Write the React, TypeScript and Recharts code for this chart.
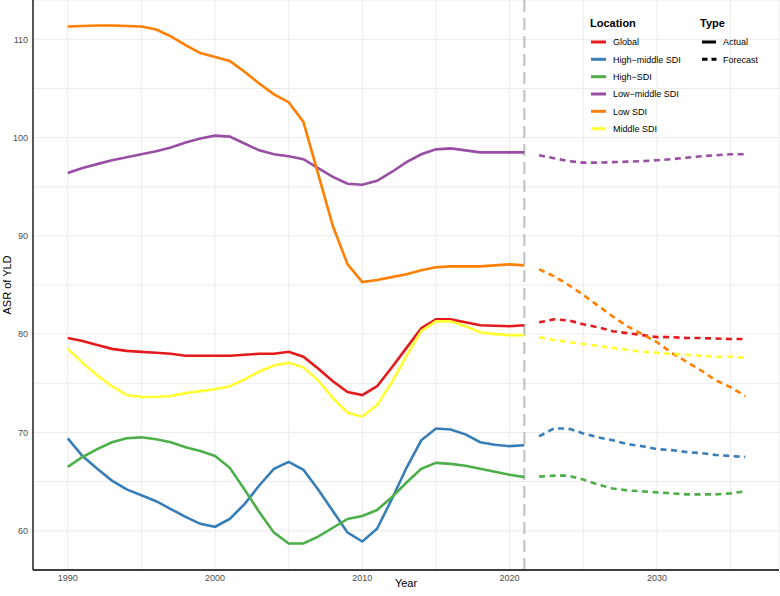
import React from 'react';
import { LineChart, Line, XAxis, YAxis, CartesianGrid, ReferenceLine } from 'recharts';

const actualYears = [1990, 1991, 1992, 1993, 1994, 1995, 1996, 1997, 1998, 1999, 2000, 2001, 2002, 2003, 2004, 2005, 2006, 2007, 2008, 2009, 2010, 2011, 2012, 2013, 2014, 2015, 2016, 2017, 2018, 2019, 2020, 2021];
const forecastYears = [2022, 2023, 2024, 2025, 2026, 2027, 2028, 2029, 2030, 2031, 2032, 2033, 2034, 2035, 2036];

const globalActual = [79.6, 79.3, 78.9, 78.5, 78.3, 78.2, 78.1, 78.0, 77.8, 77.8, 77.8, 77.8, 77.9, 78.0, 78.0, 78.2, 77.7, 76.5, 75.2, 74.1, 73.8, 74.7, 76.6, 78.6, 80.6, 81.5, 81.5, 81.2, 80.9, 80.85, 80.8, 80.9];
const highMiddleActual = [69.4, 67.6, 66.3, 65.1, 64.2, 63.6, 63.0, 62.2, 61.4, 60.7, 60.4, 61.2, 62.7, 64.6, 66.3, 67.0, 66.2, 64.2, 62.0, 59.8, 58.9, 60.2, 63.2, 66.4, 69.2, 70.4, 70.3, 69.8, 69.0, 68.75, 68.6, 68.7];
const highActual = [66.5, 67.5, 68.3, 69.0, 69.4, 69.5, 69.3, 69.0, 68.5, 68.1, 67.6, 66.4, 64.2, 61.9, 59.8, 58.7, 58.7, 59.4, 60.3, 61.2, 61.5, 62.1, 63.4, 64.9, 66.3, 66.9, 66.8, 66.6, 66.3, 66.0, 65.7, 65.45];
const lowMiddleActual = [96.4, 96.9, 97.3, 97.7, 98.0, 98.3, 98.6, 99.0, 99.5, 99.9, 100.2, 100.1, 99.4, 98.7, 98.3, 98.1, 97.8, 96.9, 96.0, 95.3, 95.2, 95.6, 96.5, 97.5, 98.3, 98.8, 98.9, 98.7, 98.5, 98.5, 98.5, 98.5];
const lowActual = [111.3, 111.35, 111.4, 111.4, 111.35, 111.3, 111.0, 110.3, 109.4, 108.6, 108.2, 107.8, 106.7, 105.5, 104.4, 103.6, 101.6, 96.3, 91.0, 87.1, 85.3, 85.5, 85.8, 86.1, 86.5, 86.8, 86.9, 86.9, 86.9, 87.0, 87.1, 87.0];
const middleActual = [78.5, 77.1, 75.8, 74.7, 73.8, 73.6, 73.6, 73.7, 74.0, 74.2, 74.4, 74.7, 75.4, 76.2, 76.8, 77.1, 76.6, 75.3, 73.5, 72.0, 71.6, 72.8, 75.1, 77.8, 80.3, 81.3, 81.3, 80.8, 80.2, 80.0, 79.9, 79.9];

const globalForecast = [81.2, 81.5, 81.4, 81.0, 80.7, 80.3, 80.1, 79.9, 79.7, 79.7, 79.6, 79.6, 79.55, 79.5, 79.5];
const highMiddleForecast = [69.6, 70.4, 70.4, 69.9, 69.5, 69.2, 68.8, 68.6, 68.3, 68.2, 68.0, 67.9, 67.7, 67.6, 67.5];
const highForecast = [65.5, 65.6, 65.6, 65.2, 64.7, 64.3, 64.1, 64.0, 63.9, 63.8, 63.7, 63.7, 63.7, 63.8, 64.0];
const lowMiddleForecast = [98.2, 97.9, 97.6, 97.45, 97.45, 97.5, 97.55, 97.6, 97.7, 97.8, 97.95, 98.1, 98.2, 98.3, 98.3];
const lowForecast = [86.6, 85.9, 85.0, 84.0, 82.9, 81.8, 80.8, 80.0, 79.2, 78.1, 77.2, 76.3, 75.3, 74.6, 73.7];
const middleForecast = [79.7, 79.4, 79.2, 79.0, 78.8, 78.6, 78.4, 78.2, 78.1, 78.0, 77.9, 77.8, 77.7, 77.7, 77.6];

const locations = ['Global', 'High-middle SDI', 'High-SDI', 'Low-middle SDI', 'Low SDI', 'Middle SDI'];
const locationLabels = ['Global', 'High\u2212middle SDI', 'High\u2212SDI', 'Low\u2212middle SDI', 'Low SDI', 'Middle SDI'];
const colors = ['#E41A1C', '#377EB8', '#4DAF4A', '#984EA3', '#FF7F00', '#FFFF33'];
const actualSeries = [globalActual, highMiddleActual, highActual, lowMiddleActual, lowActual, middleActual];
const forecastSeries = [globalForecast, highMiddleForecast, highForecast, lowMiddleForecast, lowForecast, middleForecast];

const xTicks = [1990, 1995, 2000, 2005, 2010, 2015, 2020, 2025, 2030, 2035];
const yTicks = [60, 65, 70, 75, 80, 85, 90, 95, 100, 105, 110];
const cutoffYear = 2021;

const data: any[] = [];
actualYears.forEach((y, i) => {
  const row: any = { year: y };
  locations.forEach((_, k) => { row['a' + k] = actualSeries[k][i]; });
  data.push(row);
});
forecastYears.forEach((y, i) => {
  const row: any = { year: y };
  locations.forEach((_, k) => { row['f' + k] = forecastSeries[k][i]; });
  data.push(row);
});

const FONT = '"Liberation Sans", Arial, Helvetica, sans-serif';

const LegendOverlay = () => {
  const rowY = [42, 59.3, 76.7, 94, 111.3, 128.7];
  return (
    <svg width={780} height={596} style={{ position: 'absolute', left: 0, top: 0, pointerEvents: 'none' }}>
      <text x={590} y={27} fontFamily={FONT} fontSize={11} fontWeight="bold" fill="#000">Location</text>
      {locationLabels.map((l, i) => (
        <g key={l}>
          <line x1={591} x2={606} y1={rowY[i]} y2={rowY[i]} stroke={colors[i]} strokeWidth={3} />
          <text x={613} y={rowY[i] + 3.3} fontFamily={FONT} fontSize={9} fill="#000">{l}</text>
        </g>
      ))}
      <text x={700} y={27} fontFamily={FONT} fontSize={11} fontWeight="bold" fill="#000">Type</text>
      <line x1={702} x2={716} y1={rowY[0]} y2={rowY[0]} stroke="#000" strokeWidth={3} />
      <text x={723} y={rowY[0] + 3.3} fontFamily={FONT} fontSize={9} fill="#000">Actual</text>
      <line x1={702} x2={716.5} y1={rowY[1]} y2={rowY[1]} stroke="#000" strokeWidth={3} strokeDasharray="5.5 4" />
      <text x={723} y={rowY[1] + 3.3} fontFamily={FONT} fontSize={9} fill="#000">Forecast</text>
    </svg>
  );
};

export default function App() {
  return (
    <div style={{ position: 'absolute', left: 0, top: 0, width: 780, height: 596, background: '#fff' }}>
      <LineChart width={780} height={596} data={data} margin={{ top: 0, right: 1, bottom: 0, left: 0 }}>
        <CartesianGrid stroke="#EBEBEB" strokeWidth={1} />
        <XAxis
          type="number"
          dataKey="year"
          domain={[1987.64, 2038.29]}
          allowDataOverflow
          ticks={xTicks}
          tickFormatter={(v: number) => (v % 10 === 0 ? String(v) : '')}
          tickLine={false}
          tickSize={0}
          tickMargin={5}
          height={26}
          axisLine={{ stroke: '#000', strokeWidth: 1.3 }}
          tick={{ fill: '#4D4D4D', fontSize: 9, fontFamily: FONT }}
          label={{ value: 'Year', position: 'insideBottom', offset: 9, fill: '#000', fontSize: 11, fontFamily: FONT }}
        />
        <YAxis
          type="number"
          domain={[56.0, 114.0]}
          allowDataOverflow
          ticks={yTicks}
          tickFormatter={(v: number) => (v % 10 === 0 ? String(v) : '')}
          tickLine={false}
          tickSize={0}
          tickMargin={5}
          width={33}
          axisLine={{ stroke: '#000', strokeWidth: 1.3 }}
          tick={{ fill: '#4D4D4D', fontSize: 9, fontFamily: FONT }}
          label={{ value: 'ASR of YLD', angle: -90, position: 'insideLeft', offset: 7, fill: '#000', fontSize: 11, fontFamily: FONT, style: { textAnchor: 'middle' } }}
        />
        <ReferenceLine x={cutoffYear} stroke="#BEBEBE" strokeWidth={2} strokeDasharray="12 6" />
        {locations.map((l, k) => (
          <Line key={'a' + k} type="linear" dataKey={'a' + k} stroke={colors[k]} strokeWidth={2.6} dot={false} activeDot={false} isAnimationActive={false} connectNulls={false} />
        ))}
        {locations.map((l, k) => (
          <Line key={'f' + k} type="linear" dataKey={'f' + k} stroke={colors[k]} strokeWidth={2.6} strokeDasharray="6 4.5" dot={false} activeDot={false} isAnimationActive={false} connectNulls={false} />
        ))}
      </LineChart>
      <LegendOverlay />
    </div>
  );
}
